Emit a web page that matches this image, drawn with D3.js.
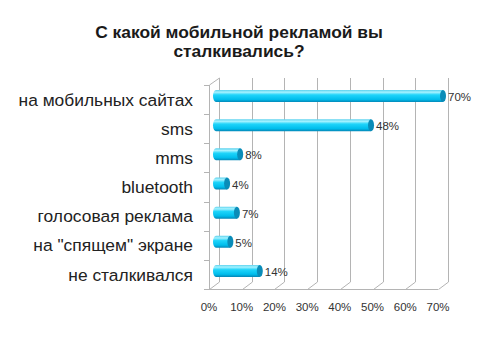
<!DOCTYPE html>
<html>
<head>
<meta charset="utf-8">
<script src="https://cdn.jsdelivr.net/npm/d3@7"></script>
<style>
  body { margin: 0; background: #fff; }
  svg { display: block; font-family: "Liberation Sans", Arial, sans-serif; }
</style>
</head>
<body>
<svg id="chart"></svg>
<script>
const categories = ["на мобильных сайтах", "sms", "mms", "bluetooth", "голосовая реклама", "на \"спящем\" экране", "не сталкивался"];
const values = [70, 48, 8, 4, 7, 5, 14];
const ticks = [0, 10, 20, 30, 40, 50, 60, 70];
const titleLines = ["С какой мобильной рекламой вы", "сталкивались?"];

const svg_width = 500, svg_height = 353;
const svg = d3.select("#chart")
    .attr("width", svg_width)
    .attr("height", svg_height);

// front plane of the 3d plot area
const pLeft = 209, pRight = 438, pTop = 85, pBottom = 289;
const dx = 10, dy = -7; // depth offset of the back wall

const x = d3.scaleLinear().domain([0, 70]).range([pLeft, pRight]);
const y = d3.scaleBand().domain(categories).range([pTop, pBottom]);

const grid = "#b4b4b4";

// title
svg.append("g")
    .selectAll("text")
    .data(titleLines)
    .enter()
    .append("text")
    .attr("x", 239)
    .attr("y", (d, i) => 38 + i * 19)
    .attr("text-anchor", "middle")
    .attr("font-size", 17.4)
    .attr("font-weight", "bold")
    .attr("fill", "#1a1a1a")
    .text(d => d);

// gradient for the cylinders
const defs = svg.append("defs");
const grad = defs.append("linearGradient")
    .attr("id", "bar-grad")
    .attr("x1", "0%").attr("y1", "0%")
    .attr("x2", "0%").attr("y2", "100%");
[["0%", "#5cd2ee"], ["18%", "#a6f2ff"], ["40%", "#1fd4fa"], ["78%", "#00bdec"], ["100%", "#0486b6"]]
    .forEach(s => grad.append("stop").attr("offset", s[0]).attr("stop-color", s[1]));

const walls = svg.append("g")
    .attr("fill", "none")
    .attr("stroke", grid)
    .attr("stroke-width", 1);

// gridlines on the back wall + floor diagonals
ticks.forEach(t => {
    const xf = Math.round(x(t)) + 0.5;
    walls.append("line")
        .attr("x1", xf + dx).attr("x2", xf + dx)
        .attr("y1", pTop + dy).attr("y2", pBottom + dy);
    walls.append("line")
        .attr("x1", xf).attr("y1", pBottom + 0.5)
        .attr("x2", xf + dx).attr("y2", pBottom + dy);
});

// left wall
walls.append("line")
    .attr("x1", pLeft + 0.5).attr("x2", pLeft + 0.5)
    .attr("y1", pTop).attr("y2", pBottom);
walls.append("line")
    .attr("x1", pLeft + 0.5).attr("y1", pTop)
    .attr("x2", pLeft + dx + 0.5).attr("y2", pTop + dy);

// floor front edge
walls.append("line")
    .attr("x1", pLeft - 5).attr("x2", pRight)
    .attr("y1", pBottom + 0.5).attr("y2", pBottom + 0.5);

// category ticks
categories.concat([null]).forEach((c, i) => {
    const yy = Math.round(pTop + i * y.step()) + 0.5;
    walls.append("line")
        .attr("x1", pLeft - 5).attr("x2", pLeft)
        .attr("y1", yy).attr("y2", yy);
});

// category labels
svg.append("g")
    .selectAll("text")
    .data(categories)
    .enter()
    .append("text")
    .attr("x", 193)
    .attr("y", d => y(d) + y.bandwidth() / 2)
    .attr("dy", "0.35em")
    .attr("text-anchor", "end")
    .attr("font-size", 17.4)
    .attr("fill", "#222")
    .text(d => d);

// x tick labels
svg.append("g")
    .selectAll("text")
    .data(ticks)
    .enter()
    .append("text")
    .attr("x", d => x(d))
    .attr("y", 307)
    .attr("dy", "0.35em")
    .attr("text-anchor", "middle")
    .attr("font-size", 11.5)
    .attr("fill", "#333")
    .text(d => d + "%");

// cylinders sit in the middle of the depth
const bh = 12, rx = 3;
const bars = svg.append("g")
    .selectAll("g")
    .data(categories)
    .enter()
    .append("g");

bars.append("path")
    .attr("fill", "url(#bar-grad)")
    .attr("d", (d, i) => {
        const x0 = x(0) + dx / 2 - 1, x1 = x(values[i]) + dx / 2;
        const y0 = y(d) + y.bandwidth() / 2 + dy / 2 - bh / 2;
        return `M${x0 + rx},${y0} L${x1},${y0} L${x1},${y0 + bh} L${x0 + rx},${y0 + bh}` +
            ` A${rx},${bh / 2} 0 0 1 ${x0 + rx},${y0} Z`;
    });

bars.append("ellipse")
    .attr("cx", (d, i) => x(values[i]) + dx / 2)
    .attr("cy", d => y(d) + y.bandwidth() / 2 + dy / 2)
    .attr("rx", rx)
    .attr("ry", bh / 2)
    .attr("fill", "#0a8cb8");

bars.append("text")
    .attr("x", (d, i) => x(values[i]) + dx / 2 + rx + 2)
    .attr("y", d => y(d) + y.bandwidth() / 2 + dy / 2 + 1)
    .attr("dy", "0.35em")
    .attr("font-size", 11.5)
    .attr("fill", "#333")
    .text((d, i) => values[i] + "%");
</script>
</body>
</html>
